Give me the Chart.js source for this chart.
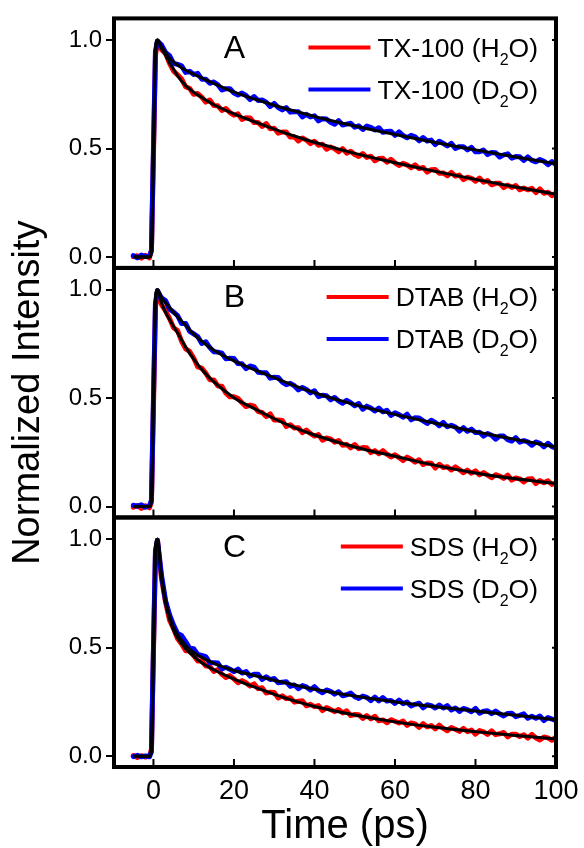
<!DOCTYPE html>
<html><head><meta charset="utf-8">
<script src="https://cdn.jsdelivr.net/npm/chart.js@4.4.1/dist/chart.umd.min.js"></script>
<style>html,body{margin:0;padding:0;background:#fff;}#wrap{position:relative;width:584px;height:848px;}</style>
</head><body><div id="wrap"><canvas id="c" width="584" height="848"></canvas></div>
<script>
// ---------- data ----------
const X_TICKS = [0, 20, 40, 60, 80, 100];
const Y_TICKS = [0, 0.5, 1.0];
const PANEL_LABELS = ['A', 'B', 'C'];
const LEGEND_LABELS = [['TX-100 (H_2O)', 'TX-100 (D_2O)'], ['DTAB (H_2O)', 'DTAB (D_2O)'], ['SDS (H_2O)', 'SDS (D_2O)']];
const X_TITLE = 'Time (ps)';
const Y_TITLE = 'Normalized Intensity';

// measured time points (ps)
const T = [-5,-4,-3,-2,-1,-0.5,0,0.5,
1,2,3,4,5,6,7,8,9,10,
11,12,13,14,15,16,17,18,19,20,
21,22,23,24,25,26,27,28,29,30,
31,32,33,34,35,36,37,38,39,40,
41,42,43,44,45,46,47,48,49,50,
51,52,53,54,55,56,57,58,59,60,
61,62,63,64,65,66,67,68,69,70,
71,72,73,74,75,76,77,78,79,80,
81,82,83,84,85,86,87,88,89,90,
91,92,93,94,95,96,97,98,99,100];

const A_H_DATA = [0.002,0.006,-0.005,0.008,-0.004,0.03,0.47,0.93,
0.995,0.956,0.939,0.893,0.857,0.840,0.821,0.784,0.778,0.750,
0.754,0.737,0.714,0.724,0.699,0.697,0.676,0.685,0.666,0.654,
0.660,0.634,0.642,0.641,0.620,0.620,0.602,0.615,0.591,0.594,
0.571,0.576,0.576,0.553,0.554,0.535,0.549,0.539,0.523,0.534,
0.515,0.520,0.497,0.507,0.499,0.485,0.500,0.479,0.488,0.473,
0.464,0.477,0.459,0.465,0.444,0.454,0.455,0.437,0.451,0.434,
0.422,0.432,0.425,0.412,0.425,0.408,0.413,0.391,0.403,0.404,
0.386,0.388,0.375,0.390,0.373,0.378,0.357,0.368,0.363,0.350,
0.364,0.345,0.353,0.333,0.340,0.340,0.320,0.332,0.321,0.330,
0.310,0.318,0.310,0.317,0.297,0.314,0.294,0.299,0.283,0.296];

const A_D_DATA = [0.007,-0.004,0.009,0.003,0.006,0.03,0.5,0.95,
0.995,0.978,0.943,0.928,0.893,0.888,0.881,0.851,0.856,0.842,
0.847,0.820,0.820,0.801,0.807,0.794,0.770,0.776,0.776,0.756,
0.747,0.756,0.745,0.726,0.740,0.722,0.724,0.714,0.694,0.708,
0.689,0.678,0.689,0.668,0.670,0.670,0.646,0.658,0.646,0.651,
0.628,0.637,0.636,0.621,0.612,0.629,0.609,0.613,0.617,0.599,
0.605,0.588,0.604,0.598,0.586,0.596,0.575,0.579,0.580,0.561,
0.577,0.560,0.550,0.561,0.554,0.536,0.551,0.535,0.539,0.518,
0.534,0.524,0.512,0.524,0.501,0.509,0.509,0.494,0.506,0.485,
0.486,0.493,0.473,0.482,0.481,0.461,0.471,0.476,0.456,0.463,
0.462,0.445,0.462,0.446,0.439,0.450,0.442,0.426,0.440,0.426];

const B_H_DATA = [-0.003,0.005,-0.008,0.004,-0.006,0.02,0.46,0.92,
0.995,0.931,0.902,0.867,0.824,0.811,0.762,0.727,0.715,0.685,
0.644,0.638,0.615,0.585,0.584,0.556,0.555,0.523,0.506,0.506,
0.499,0.479,0.461,0.468,0.463,0.438,0.434,0.415,0.427,0.399,
0.399,0.397,0.369,0.377,0.362,0.364,0.341,0.353,0.337,0.325,
0.332,0.306,0.316,0.312,0.297,0.305,0.283,0.287,0.271,0.286,
0.267,0.272,0.271,0.249,0.258,0.244,0.258,0.242,0.229,0.239,
0.226,0.212,0.228,0.218,0.205,0.216,0.194,0.201,0.200,0.178,
0.195,0.180,0.184,0.169,0.183,0.171,0.156,0.168,0.154,0.165,
0.146,0.157,0.145,0.133,0.147,0.141,0.130,0.145,0.122,0.132,
0.128,0.114,0.127,0.129,0.106,0.120,0.110,0.119,0.102,0.108];

const B_D_DATA = [0.006,0.002,0.008,-0.003,0.004,0.03,0.5,0.94,
0.995,0.962,0.950,0.910,0.897,0.880,0.844,0.844,0.808,0.796,
0.784,0.752,0.760,0.733,0.714,0.712,0.707,0.681,0.684,0.683,
0.659,0.658,0.636,0.648,0.643,0.619,0.617,0.617,0.592,0.596,
0.595,0.574,0.562,0.568,0.557,0.538,0.549,0.540,0.524,0.534,
0.507,0.513,0.511,0.492,0.503,0.487,0.476,0.490,0.479,0.465,
0.475,0.449,0.463,0.454,0.441,0.454,0.437,0.444,0.420,0.432,
0.424,0.412,0.426,0.400,0.409,0.408,0.395,0.383,0.398,0.388,
0.373,0.388,0.368,0.375,0.367,0.348,0.364,0.347,0.357,0.341,
0.343,0.325,0.337,0.329,0.311,0.325,0.325,0.309,0.302,0.318,
0.297,0.304,0.298,0.283,0.298,0.292,0.275,0.292,0.276,0.269];

const C_H_DATA = [0.003,-0.006,0.002,-0.004,0.002,0.03,0.48,0.93,
0.995,0.818,0.711,0.627,0.588,0.541,0.517,0.486,0.484,0.464,
0.439,0.440,0.416,0.413,0.390,0.399,0.377,0.363,0.371,0.356,
0.338,0.348,0.338,0.323,0.333,0.311,0.315,0.291,0.295,0.293,
0.268,0.278,0.265,0.269,0.249,0.253,0.255,0.232,0.239,0.228,
0.233,0.210,0.224,0.215,0.205,0.215,0.199,0.209,0.187,0.192,
0.191,0.174,0.187,0.172,0.184,0.163,0.167,0.154,0.168,0.161,
0.153,0.162,0.142,0.153,0.149,0.132,0.150,0.135,0.141,0.126,
0.143,0.128,0.117,0.132,0.124,0.114,0.128,0.113,0.120,0.101,
0.118,0.112,0.100,0.117,0.099,0.103,0.109,0.089,0.101,0.101,
0.090,0.099,0.083,0.100,0.084,0.075,0.088,0.084,0.073,0.088];

const C_D_DATA = [-0.002,0.004,-0.003,0.001,-0.003,0.02,0.5,0.95,
0.995,0.834,0.717,0.652,0.604,0.565,0.556,0.528,0.497,0.495,
0.469,0.464,0.459,0.430,0.430,0.429,0.402,0.410,0.401,0.389,
0.401,0.383,0.390,0.369,0.378,0.377,0.353,0.366,0.353,0.358,
0.338,0.341,0.343,0.322,0.328,0.311,0.325,0.319,0.305,0.320,
0.302,0.292,0.305,0.299,0.286,0.297,0.278,0.283,0.291,0.274,
0.266,0.277,0.271,0.256,0.272,0.255,0.270,0.254,0.257,0.243,
0.258,0.242,0.249,0.231,0.239,0.244,0.223,0.237,0.233,0.222,
0.235,0.222,0.233,0.213,0.222,0.206,0.220,0.214,0.205,0.220,
0.198,0.207,0.209,0.196,0.208,0.195,0.185,0.197,0.198,0.182,
0.188,0.195,0.175,0.184,0.175,0.185,0.164,0.178,0.171,0.163];

// fitted curves (black)
const TF = [-5,-1,-0.5,0,0.5,1,2,3,4,5,6,8,10,12,15,20,25,30,35,40,50,60,70,80,90,100];
const A_H_FIT = [0,0,0.03,0.5,0.95,1.0,0.96,0.93,0.895,0.865,0.835,0.79,0.76,0.735,0.702,0.66,0.624,0.590,0.558,0.529,0.478,0.435,0.395,0.358,0.323,0.29];
const A_D_FIT = [0,0,0.03,0.5,0.95,1.0,0.97,0.945,0.917,0.9,0.885,0.861,0.843,0.826,0.8,0.76,0.729,0.700,0.673,0.648,0.604,0.565,0.528,0.494,0.461,0.43];
const B_H_FIT = [0,0,0.03,0.5,0.95,1.0,0.94,0.895,0.862,0.83,0.8,0.735,0.68,0.632,0.575,0.502,0.452,0.405,0.364,0.33,0.275,0.232,0.19,0.155,0.128,0.107];
const B_D_FIT = [0,0,0.03,0.5,0.95,1.0,0.965,0.94,0.918,0.895,0.875,0.835,0.795,0.762,0.721,0.672,0.631,0.594,0.558,0.525,0.47,0.425,0.384,0.345,0.309,0.275];
const C_H_FIT = [0,0,0.03,0.5,0.95,1.0,0.82,0.705,0.632,0.58,0.545,0.495,0.46,0.43,0.398,0.355,0.319,0.285,0.255,0.229,0.19,0.158,0.133,0.113,0.095,0.079];
const C_D_FIT = [0,0,0.03,0.5,0.95,1.0,0.83,0.72,0.645,0.595,0.56,0.51,0.478,0.455,0.428,0.395,0.372,0.35,0.328,0.308,0.277,0.25,0.228,0.208,0.188,0.168];

// ---------- styling ----------
const FONT = '"Liberation Sans", Arial, Helvetica, sans-serif';
const RED = '#ff0000', BLUE = '#0000ff', BLACK = '#000000';
const X_MIN = -9.8, X_MAX = 100, Y_MIN = -0.05, Y_MAX = 1.1;
Chart.defaults.font.family = FONT;
Chart.defaults.color = BLACK;

const PANELS = [
  {axis: 'yA', h: A_H_DATA, d: A_D_DATA, hf: A_H_FIT, df: A_D_FIT},
  {axis: 'yB', h: B_H_DATA, d: B_D_DATA, hf: B_H_FIT, df: B_D_FIT},
  {axis: 'yC', h: C_H_DATA, d: C_D_DATA, hf: C_H_FIT, df: C_D_FIT}
];

function pts(xs, ys) { return xs.map((x, i) => ({x: x, y: ys[i]})); }
function dataDs(vals, color, axis) {
  return {data: pts(T, vals), yAxisID: axis, borderColor: color, borderWidth: 5,
    pointRadius: 0, tension: 0, borderJoinStyle: 'round', borderCapStyle: 'round', order: 2, fill: false};
}
function fitDs(vals, axis) {
  return {data: pts(TF, vals), yAxisID: axis, borderColor: BLACK, borderWidth: 3,
    pointRadius: 0, cubicInterpolationMode: 'monotone', order: 1, fill: false};
}
const datasets = [];
PANELS.forEach(p => {
  datasets.push(fitDs(p.hf, p.axis), fitDs(p.df, p.axis), dataDs(p.d, BLUE, p.axis), dataDs(p.h, RED, p.axis));
});

function yScale(title) {
  const s = {
    type: 'linear', position: 'left', stack: 'panels', stackWeight: 1,
    min: Y_MIN, max: Y_MAX,
    afterBuildTicks: sc => { sc.ticks = Y_TICKS.map(v => ({value: v})); },
    afterFit: sc => { sc.width = 114; },
    grid: {display: true, drawOnChartArea: false, drawTicks: true, tickLength: 8, lineWidth: 2, color: BLACK},
    border: {display: false},
    ticks: {font: {size: 24, family: FONT}, color: BLACK, padding: 4, callback: v => Number(v).toFixed(1)},
    title: {display: false}
  };
  if (title) {
    s.title = {display: true, text: title, color: BLACK, font: {size: 38, family: FONT}, padding: {top: 6, bottom: 0}};
  }
  return s;
}

const framePlugin = {
  id: 'frames',
  afterDraw(chart) {
    const ctx = chart.ctx;
    const xs = chart.scales.x;
    const L = xs.left, R = xs.right;
    PANELS.forEach((p, k) => {
      const ys = chart.scales[p.axis];
      const Tp = ys.top, B = ys.bottom;
      ctx.save();
      ctx.strokeStyle = BLACK;
      ctx.lineWidth = 2;
      ctx.beginPath();
      X_TICKS.forEach(v => { const px = xs.getPixelForValue(v); ctx.moveTo(px, B); ctx.lineTo(px, B - 8); });
      Y_TICKS.forEach(v => { const py = ys.getPixelForValue(v); ctx.moveTo(R, py); ctx.lineTo(R - 4, py); });
      ctx.stroke();
      ctx.lineWidth = 4;
      ctx.strokeRect(L, Tp, R - L, B - Tp);
      // panel letter
      ctx.fillStyle = BLACK;
      ctx.font = '32px ' + FONT;
      ctx.textAlign = 'center';
      ctx.textBaseline = 'alphabetic';
      ctx.fillText(PANEL_LABELS[k], L + 120.5, Tp + 39.5);
      // legend
      const colors = [RED, BLUE];
      LEGEND_LABELS[k].forEach((lab, j) => {
        const ly = Tp + 29 + j * 42;
        const parts = lab.split('_');
        const pre = parts[0], sub = parts[1].charAt(0), post = parts[1].slice(1);
        const mainF = '26.5px ' + FONT, subF = '16px ' + FONT;
        ctx.font = mainF; const w1 = ctx.measureText(pre).width, w3 = ctx.measureText(post).width;
        ctx.font = subF; const w2 = ctx.measureText(sub).width;
        const right = R - 18;
        const x0 = right - (w1 + w2 + w3);
        const base = ly + 9.5;
        ctx.textAlign = 'left';
        ctx.font = mainF; ctx.fillText(pre, x0, base);
        ctx.font = subF; ctx.fillText(sub, x0 + w1, base + 8);
        ctx.font = mainF; ctx.fillText(post, x0 + w1 + w2, base);
        ctx.strokeStyle = colors[j];
        ctx.lineWidth = 4;
        ctx.lineCap = 'butt';
        ctx.beginPath();
        ctx.moveTo(x0 - 69, ly); ctx.lineTo(x0 - 7, ly);
        ctx.stroke();
      });
      ctx.restore();
    });
    // x-axis title (placed slightly right of the axis centre, as in the original)
    ctx.save();
    ctx.fillStyle = BLACK;
    ctx.font = '40px ' + FONT;
    ctx.textAlign = 'center';
    ctx.textBaseline = 'alphabetic';
    ctx.fillText(X_TITLE, (L + R) / 2 + 10, 838);
    ctx.restore();
  }
};

new Chart(document.getElementById('c'), {
  type: 'line',
  data: {datasets: datasets},
  plugins: [framePlugin],
  options: {
    responsive: false, animation: false, devicePixelRatio: 1,
    layout: {padding: {top: 16, right: 28, bottom: 0, left: 0}},
    plugins: {legend: {display: false}, tooltip: {enabled: false}},
    scales: {
      x: {
        type: 'linear', position: 'bottom', min: X_MIN, max: X_MAX,
        afterBuildTicks: sc => { sc.ticks = X_TICKS.map(v => ({value: v})); },
        afterFit: sc => { sc.height = 81; },
        grid: {display: false}, border: {display: false},
        ticks: {font: {size: 27, family: FONT}, color: BLACK, padding: 0, maxRotation: 0, autoSkip: false, callback: v => String(v)},
        title: {display: false, text: X_TITLE}
      },
      yC: yScale(null),
      yB: yScale(Y_TITLE),
      yA: yScale(null)
    }
  }
});
</script></body></html>
